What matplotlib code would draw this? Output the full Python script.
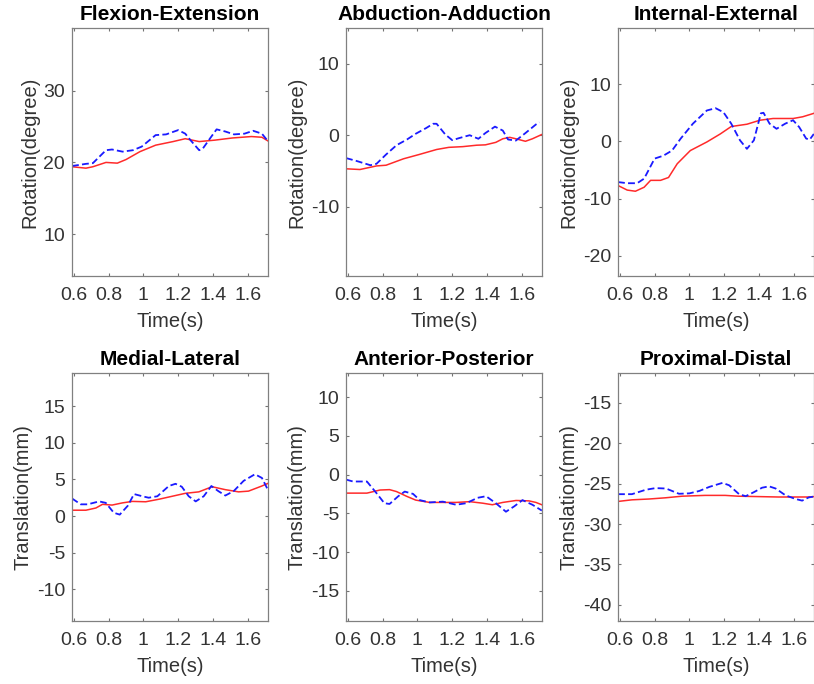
import matplotlib
matplotlib.use('Agg')
import matplotlib.pyplot as plt
import numpy as np

plt.rcParams['font.family'] = ['Liberation Sans', 'DejaVu Sans']
plt.rcParams['axes.unicode_minus'] = False

titles = ['Flexion-Extension', 'Abduction-Adduction', 'Internal-External',
          'Medial-Lateral', 'Anterior-Posterior', 'Proximal-Distal']
ylabels = ['Rotation(degree)'] * 3 + ['Translation(mm)'] * 3
ylims = [(4.2, 38.7), (-19.7, 15.0), (-23.5, 19.8),
         (-14.3, 19.5), (-18.9, 13.1), (-42.0, -11.3)]
yticks = [[10, 20, 30], [-10, 0, 10], [-20, -10, 0, 10],
          [-10, -5, 0, 5, 10, 15], [-15, -10, -5, 0, 5, 10],
          [-40, -35, -30, -25, -20, -15]]
xticks = [0.6, 0.8, 1.0, 1.2, 1.4, 1.6]
xticklabels = ['0.6', '0.8', '1', '1.2', '1.4', '1.6']

# blue dashed series (time, value)
fe_bt = [0.59, 0.67, 0.71, 0.785, 0.82, 0.88, 0.94, 0.99, 1.07, 1.13, 1.2, 1.24, 1.27, 1.32, 1.34, 1.39, 1.42, 1.47, 1.52, 1.58, 1.63, 1.68, 1.71]
fe_bv = [19.5, 19.8, 19.9, 21.7, 21.8, 21.5, 21.7, 22.2, 23.8, 23.9, 24.5, 24.0, 23.1, 21.7, 21.9, 23.6, 24.6, 24.3, 23.9, 24.0, 24.4, 24.0, 23.1]
aa_bt = [0.59, 0.65, 0.73, 0.765, 0.82, 0.88, 0.94, 0.99, 1.05, 1.09, 1.11, 1.16, 1.2, 1.24, 1.3, 1.35, 1.39, 1.445, 1.49, 1.52, 1.565, 1.62, 1.68, 1.70]
aa_bv = [-3.2, -3.6, -4.2, -4.0, -2.7, -1.4, -0.6, 0.2, 1.0, 1.6, 1.6, 0.1, -0.7, -0.4, 0.0, -0.5, 0.3, 1.2, 0.65, -0.6, -0.75, 0.3, 1.5, 1.8]
ie_bt = [0.59, 0.643, 0.70, 0.74, 0.80, 0.85, 0.90, 0.95, 1.02, 1.10, 1.15, 1.195, 1.24, 1.29, 1.33, 1.37, 1.41, 1.425, 1.46, 1.50, 1.55, 1.595, 1.63, 1.67, 1.69, 1.714]
ie_bv = [-7.1, -7.3, -7.3, -6.5, -3.0, -2.5, -1.6, 0.5, 3.1, 5.4, 5.8, 5.1, 3.1, 0.2, -1.3, 0.2, 4.9, 5.0, 3.1, 2.2, 3.1, 3.7, 2.5, 0.5, 0.3, 1.3]
ml_bt = [0.59, 0.64, 0.68, 0.746, 0.784, 0.83, 0.864, 0.91, 0.946, 0.994, 1.03, 1.08, 1.146, 1.184, 1.22, 1.26, 1.30, 1.346, 1.39, 1.43, 1.47, 1.518, 1.575, 1.64, 1.68, 1.714]
ml_bv = [2.4, 1.6, 1.6, 2.0, 1.8, 0.45, 0.2, 1.4, 3.0, 2.7, 2.5, 2.7, 4.1, 4.4, 4.0, 2.7, 2.0, 2.7, 4.1, 3.4, 2.8, 3.4, 4.8, 5.7, 5.2, 3.6]
ap_bt = [0.59, 0.63, 0.71, 0.765, 0.81, 0.84, 0.89, 0.927, 0.975, 1.013, 1.07, 1.146, 1.222, 1.28, 1.346, 1.394, 1.45, 1.508, 1.556, 1.603, 1.66, 1.714]
ap_bv = [-0.65, -0.9, -0.9, -2.4, -3.7, -3.8, -2.8, -2.2, -2.5, -3.3, -3.6, -3.5, -3.9, -3.7, -3.0, -2.8, -3.7, -4.8, -4.1, -3.3, -3.9, -4.65]
pd_bt = [0.59, 0.67, 0.75, 0.805, 0.866, 0.94, 1.0, 1.057, 1.114, 1.19, 1.228, 1.285, 1.323, 1.37, 1.417, 1.457, 1.495, 1.552, 1.61, 1.647, 1.685, 1.714]
pd_bv = [-26.3, -26.3, -25.75, -25.55, -25.6, -26.25, -26.2, -25.9, -25.4, -24.9, -25.2, -26.3, -26.55, -26.05, -25.5, -25.33, -25.6, -26.45, -26.9, -27.1, -26.7, -26.6]

# red solid series (time, value)
fe_rt = [0.59, 0.67, 0.71, 0.785, 0.85, 0.9, 0.98, 1.07, 1.17, 1.24, 1.32, 1.41, 1.51, 1.62, 1.68, 1.714]
fe_rv = [19.4, 19.2, 19.4, 20.0, 19.9, 20.4, 21.5, 22.4, 22.9, 23.3, 22.9, 23.1, 23.4, 23.6, 23.5, 23.0]
aa_rt = [0.59, 0.67, 0.765, 0.82, 0.92, 1.01, 1.11, 1.18, 1.26, 1.34, 1.39, 1.45, 1.49, 1.53, 1.565, 1.62, 1.66, 1.714]
aa_rv = [-4.7, -4.8, -4.3, -4.2, -3.3, -2.7, -2.0, -1.7, -1.6, -1.4, -1.35, -1.0, -0.5, -0.3, -0.5, -0.85, -0.5, 0.1]
ie_rt = [0.59, 0.643, 0.69, 0.74, 0.777, 0.834, 0.88, 0.93, 1.005, 1.10, 1.177, 1.24, 1.33, 1.405, 1.48, 1.595, 1.65, 1.714]
ie_rv = [-7.7, -8.5, -8.7, -8.0, -6.8, -6.8, -6.3, -3.9, -1.6, -0.1, 1.3, 2.6, 3.0, 3.7, 4.0, 4.0, 4.3, 4.9]
ml_rt = [0.59, 0.67, 0.727, 0.765, 0.82, 0.88, 0.937, 1.013, 1.09, 1.165, 1.24, 1.318, 1.394, 1.47, 1.546, 1.603, 1.68, 1.714]
ml_rv = [0.8, 0.8, 1.1, 1.6, 1.5, 1.8, 2.0, 1.95, 2.3, 2.7, 3.1, 3.3, 4.0, 3.6, 3.3, 3.4, 4.1, 4.45]
ap_rt = [0.59, 0.71, 0.785, 0.84, 0.88, 0.937, 0.99, 1.07, 1.146, 1.222, 1.3, 1.375, 1.43, 1.49, 1.566, 1.64, 1.68, 1.714]
ap_rv = [-2.4, -2.4, -2.0, -1.95, -2.2, -2.8, -3.3, -3.6, -3.6, -3.6, -3.5, -3.7, -3.9, -3.6, -3.35, -3.4, -3.6, -3.9]
pd_rt = [0.59, 0.67, 0.767, 0.862, 0.958, 1.09, 1.205, 1.28, 1.396, 1.51, 1.624, 1.68, 1.714]
pd_rv = [-27.2, -27.0, -26.9, -26.75, -26.55, -26.45, -26.45, -26.55, -26.6, -26.65, -26.65, -26.65, -26.6]

blue = [(fe_bt, fe_bv), (aa_bt, aa_bv), (ie_bt, ie_bv),
        (ml_bt, ml_bv), (ap_bt, ap_bv), (pd_bt, pd_bv)]
red = [(fe_rt, fe_rv), (aa_rt, aa_rv), (ie_rt, ie_rv),
       (ml_rt, ml_rv), (ap_rt, ap_rv), (pd_rt, pd_rv)]

fig = plt.figure(figsize=(8.14, 6.84), dpi=100)
lefts = [72 / 814, 346 / 814, 618 / 814]
bottoms = [1 - 276 / 684, 1 - 621 / 684]
w = 196 / 814
h = 248 / 684

for i in range(6):
    ax = fig.add_axes([lefts[i % 3], bottoms[i // 3], w, h])
    ax.plot(red[i][0], red[i][1], color='#ff2a2a', lw=1.1)
    ax.plot(blue[i][0], blue[i][1], color='#1a1aff', lw=1.3, linestyle=(0, (3.8, 1.8)))
    ax.set_xlim(0.59, 1.715)
    ax.set_ylim(*ylims[i])
    ax.set_xticks(xticks)
    ax.set_xticklabels(xticklabels)
    ax.set_yticks(yticks[i])
    ax.tick_params(direction='in', top=True, right=True, length=2.5, width=0.8,
                   color='0.45', labelsize=14, labelcolor='#333333')
    ax.tick_params(axis='x', pad=8)
    ax.tick_params(axis='y', pad=5)
    for s in ax.spines.values():
        s.set_color('0.5')
        s.set_linewidth(0.9)
    ax.set_title(titles[i], fontsize=15, fontweight='bold', pad=6)
    ax.set_xlabel('Time(s)', fontsize=14.5, color='#333333', labelpad=6)
    ax.set_ylabel(ylabels[i], fontsize=14.5, color='#333333', labelpad=3)

fig.savefig('out.png', dpi=100)
